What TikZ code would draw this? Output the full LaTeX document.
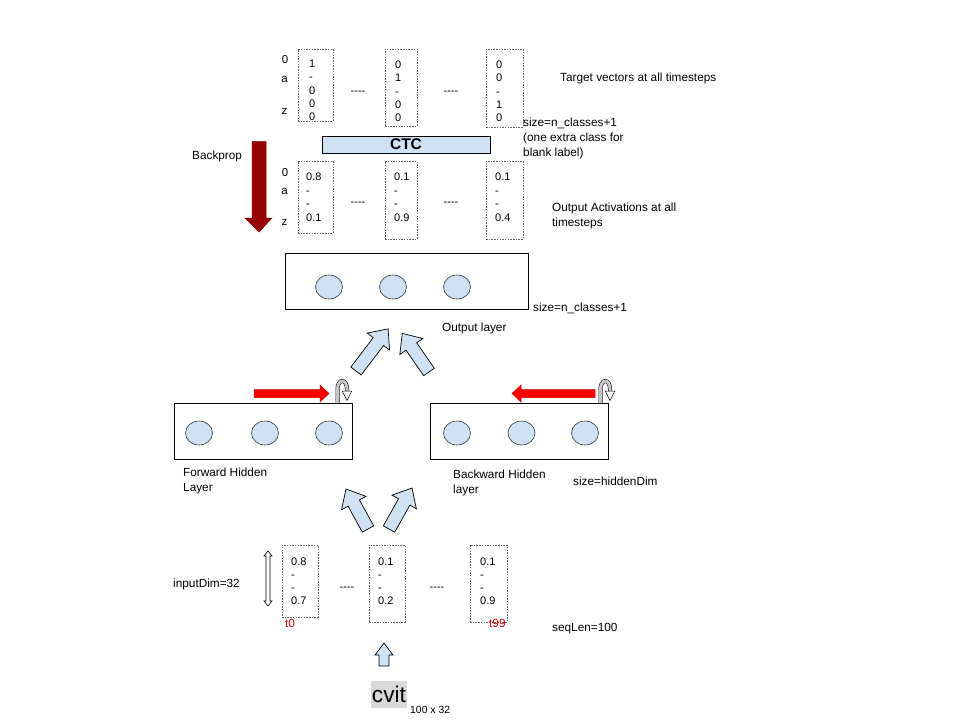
\documentclass[tikz,border=0pt]{standalone}
\usepackage{fontspec}
\setmainfont{Liberation Sans}
\usetikzlibrary{shapes.geometric}
\definecolor{lblue}{HTML}{CFE2F3}
\definecolor{bprop}{HTML}{990000}
\definecolor{tred}{HTML}{CC0000}
\definecolor{dotc}{HTML}{666666}
\newcommand\fatArrow[4]{\draw[fatarrow, shift={(#1,#2)}, rotate=#3] (0,-6.5) -- ({#4-16},-6.5) -- ({#4-16},-14) -- (#4,0) -- ({#4-16},14) -- ({#4-16},6.5) -- (0,6.5) -- cycle;}
\newcommand\fourdash{{-}{-}{-}{-}}
\begin{document}
\begin{tikzpicture}[x=1pt,y=-1pt,
  lab/.style={font=\fontsize{11.8}{14}\selectfont, inner sep=0pt, anchor=base west},
  mlab/.style={font=\fontsize{11.8}{14.5}\selectfont, inner sep=0pt, anchor=north west, align=left},
  vec/.style={font=\fontsize{11}{13.4}\selectfont, inner sep=0pt, anchor=north west, align=left},
  axislab/.style={font=\fontsize{11.5}{14}\selectfont, inner sep=0pt},
  vecbox/.style={draw=dotc, dash pattern=on 1.5pt off 1.2pt, line width=0.6pt, inner sep=0pt},
  layerbox/.style={draw=black, line width=0.8pt, inner sep=0pt},
  neuron/.style={ellipse, draw=black!80, fill=lblue, line width=0.6pt, minimum width=27pt, minimum height=24pt, inner sep=0pt},
  fatarrow/.style={fill=lblue, draw=black, line width=0.7pt, line join=miter},
  redarr/.style={fill=red, draw=red!75!black, line width=0.5pt},
  gap/.style={font=\fontsize{11}{13}\selectfont, inner sep=0pt},
  loopicon/.pic={
    \draw[double=gray!45, double distance=3pt, line width=0.5pt] (0,0) -- (0,-14) arc[start angle=180, end angle=360, x radius=4.75, y radius=8] -- (9.5,-12);
    \filldraw[fill=white, line width=0.5pt] (4.7,-12) -- (14.3,-12) -- (9.5,-2.5) -- cycle;
  }
]
\fill[white] (0,0) rectangle (960,720);
\useasboundingbox (0,0) rectangle (960,720);

% ---------- target vectors ----------
\node[vecbox, minimum width=35pt, minimum height=72pt] (t1) at (315.5,85) {};
\node[vecbox, minimum width=32pt, minimum height=77pt] (t2) at (401,87.5) {};
\node[vecbox, minimum width=37pt, minimum height=78pt] (t3) at (504.5,88) {};
\node[vec] (tv1) at (309,59.5) {1\\-\\0\\0\\0};
\node[vec] (tv2) at (395,60.5) {0\\1\\-\\0\\0};
\node[vec] (tv3) at (496,60.5) {0\\0\\-\\1\\0};
\node[axislab] (l0t) at (285,60) {0};
\node[axislab] (lat) at (284.5,79) {a};
\node[axislab] (lzt) at (284.5,111) {z};
\node[gap] (g1) at (358,93.3) {\fourdash};
\node[gap] (g2) at (451,93.3) {\fourdash};

% ---------- CTC ----------
\node[draw=black, fill=lblue, line width=0.7pt, minimum width=168pt, minimum height=17pt, inner sep=0pt, font=\fontsize{15.5}{17}\selectfont\bfseries] (ctc) at (406,144.5) {CTC};

% ---------- output activations ----------
\node[vecbox, minimum width=35pt, minimum height=72pt] (o1) at (315.5,197) {};
\node[vecbox, minimum width=32pt, minimum height=78pt] (o2) at (401,200) {};
\node[vecbox, minimum width=37pt, minimum height=78pt] (o3) at (504.5,200) {};
\node[vec] (ov1) at (306,173) {0.8\\-\\-\\0.1};
\node[vec] (ov2) at (394,173) {0.1\\-\\-\\0.9};
\node[vec] (ov3) at (495,173) {0.1\\-\\-\\0.4};
\node[axislab] (l0o) at (285,173) {0};
\node[axislab] (lao) at (284.5,191) {a};
\node[axislab] (lzo) at (284.5,222) {z};
\node[gap] (g3) at (358,204.3) {\fourdash};
\node[gap] (g4) at (451,204.3) {\fourdash};

% ---------- backprop ----------
\draw[fill=bprop, draw=bprop!70!black, line width=0.5pt] (252,141.5) -- (266,141.5) -- (266,218) -- (272,218) -- (259,232) -- (245,218) -- (252,218) -- cycle;
\node[lab] (bplab) at (192,159) {Backprop};

% ---------- right labels ----------
\node[lab] (tvlab) at (560,81) {Target vectors at all timesteps};
\node[mlab, font=\fontsize{11.8}{15}\selectfont] (sizelab) at (523,118) {size=n\_classes+1\\(one extra class for\\blank label)};
\node[mlab] (oalab) at (552,203) {Output Activations at all\\timesteps};

% ---------- output layer ----------
\node[layerbox, minimum width=243pt, minimum height=56pt] (outl) at (406.5,281) {};
\node[neuron] (on1) at (329,287) {};
\node[neuron] (on2) at (393,287) {};
\node[neuron] (on3) at (457,287) {};
\node[lab] (szo) at (533,311.5) {size=n\_classes+1};
\node[lab] (ollab) at (442,331) {Output layer};

% arrows hidden -> output
\fatArrow{356}{371}{52.7}{53}
\fatArrow{429}{372}{124.7}{47}

% ---------- hidden layers ----------
\node[layerbox, minimum width=178pt, minimum height=56pt] (fwd) at (263,431) {};
\node[layerbox, minimum width=178pt, minimum height=56pt] (bwd) at (519,431) {};
\node[neuron] (fn1) at (199,433) {};
\node[neuron] (fn2) at (265,433) {};
\node[neuron] (fn3) at (329,433) {};
\node[neuron] (bn1) at (457,433) {};
\node[neuron] (bn2) at (521.5,433) {};
\node[neuron] (bn3) at (585,433) {};

\draw[redarr] (254,389.5) -- (320,389.5) -- (320,385) -- (329,393.5) -- (320,402) -- (320,397.5) -- (254,397.5) -- cycle;
\draw[redarr] (595,389.5) -- (521,389.5) -- (521,385) -- (512,393.5) -- (521,402) -- (521,397.5) -- (595,397.5) -- cycle;
\pic at (337.5,403) {loopicon};
\pic at (600.5,403) {loopicon};

\node[mlab] (fhl) at (183,468) {Forward Hidden\\Layer};
\node[mlab] (bhl) at (453,470) {Backward Hidden\\layer};
\node[lab] (szh) at (573,485) {size=hiddenDim};

% arrows input -> hidden
\fatArrow{368}{529}{118.8}{45.6}
\fatArrow{389}{529}{60.7}{47}

% ---------- input vectors ----------
\node[vecbox, minimum width=36pt, minimum height=72pt] (i1) at (300,581) {};
\node[vecbox, minimum width=36pt, minimum height=77pt] (i2) at (387,583.5) {};
\node[vecbox, minimum width=37pt, minimum height=77pt] (i3) at (488.5,583.5) {};
\node[vec, font=\fontsize{11}{13}\selectfont] (iv1) at (291,558) {0.8\\-\\-\\0.7};
\node[vec, font=\fontsize{11}{13}\selectfont] (iv2) at (378,558) {0.1\\-\\-\\0.2};
\node[vec, font=\fontsize{11}{13}\selectfont] (iv3) at (480,558) {0.1\\-\\-\\0.9};
\node[gap] (g5) at (347,589.3) {\fourdash};
\node[gap] (g6) at (437,589.3) {\fourdash};
\node[lab, text=tred] (t0) at (285,627) {t0};
\node[lab, text=tred] (t99) at (489,627) {t99};
\node[lab] (sql) at (552,631) {seqLen=100};
\node[lab] (idl) at (173,587) {inputDim=32};
\draw[fill=white, draw=black, line width=0.6pt] (268,551) -- (272,556) -- (270,556) -- (270,601) -- (272,601) -- (268,606) -- (264,601) -- (266,601) -- (266,556) -- (264,556) -- cycle;

% ---------- image input ----------
\draw[fatarrow] (384,643) -- (393,655) -- (389,655) -- (389,666) -- (379,666) -- (379,655) -- (375,655) -- cycle;
\node[fill=gray!30, minimum width=36pt, minimum height=27pt, inner sep=0pt, font=\fontsize{22.7}{24}\selectfont] (cvit) at (389,694.5) {cvit};
\node[font=\fontsize{10.4}{12}\selectfont, inner sep=0pt, anchor=base west] (dims) at (410,713) {100 x 32};
\end{tikzpicture}
\end{document}
